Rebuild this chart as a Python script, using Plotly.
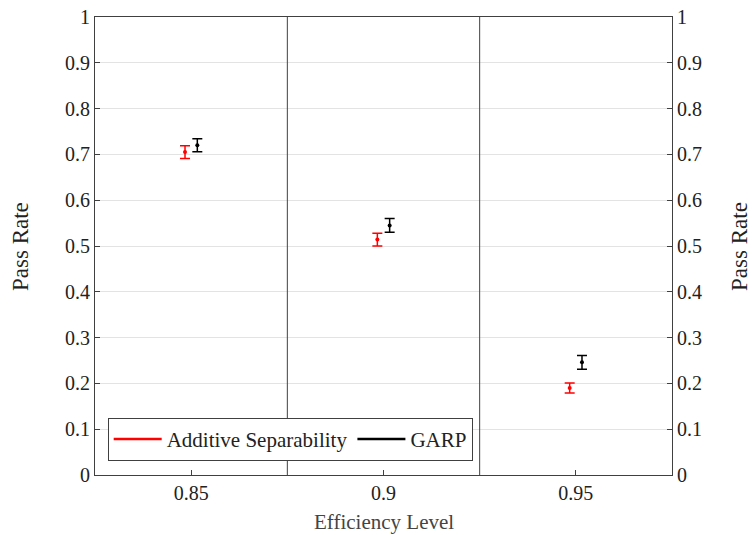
import plotly.graph_objects as go

levels = [0.85, 0.9, 0.95]
tick_labels = ["0.85", "0.9", "0.95"]
add_sep = [0.705, 0.514, 0.190]
add_sep_err = [0.014, 0.014, 0.011]
garp = [0.720, 0.545, 0.246]
garp_err = [0.014, 0.015, 0.015]
offset = 0.0016
separators = [0.875, 0.925]
yticks = [0, 0.1, 0.2, 0.3, 0.4, 0.5, 0.6, 0.7, 0.8, 0.9, 1]
yticklabels = ["0", "0.1", "0.2", "0.3", "0.4", "0.5", "0.6", "0.7", "0.8", "0.9", "1"]

FONT = "Liberation Serif, serif"
fig = go.Figure()

fig.add_trace(go.Scatter(
    x=[v - offset for v in levels], y=add_sep, mode="markers",
    marker=dict(color="red", size=4),
    error_y=dict(type="data", array=add_sep_err, color="red", thickness=1.5, width=5),
    showlegend=False))
fig.add_trace(go.Scatter(
    x=[v + offset for v in levels], y=garp, mode="markers",
    marker=dict(color="black", size=4),
    error_y=dict(type="data", array=garp_err, color="black", thickness=1.5, width=5),
    showlegend=False))
# legend entries
fig.add_trace(go.Scatter(x=[None], y=[None], mode="lines", name="Additive Separability",
                         line=dict(color="red", width=2.5)))
fig.add_trace(go.Scatter(x=[None], y=[None], mode="lines", name="GARP",
                         line=dict(color="black", width=2.5)))
# dummy for right axis
fig.add_trace(go.Scatter(x=[levels[0]], y=[0], yaxis="y2", mode="markers",
                         marker=dict(opacity=0), showlegend=False, hoverinfo="skip"))

for s in separators:
    fig.add_shape(type="line", x0=s, x1=s, y0=0, y1=1, xref="x", yref="y",
                  line=dict(color="#404040", width=1))

axis_common = dict(showline=True, linecolor="#404040", linewidth=1,
                   ticks="inside", ticklen=5, tickcolor="#404040", automargin=False,
                   tickfont=dict(family=FONT, size=20, color="#222"))

fig.update_layout(
    width=754, height=535,
    margin=dict(l=95, r=82, t=17, b=60, autoexpand=False),
    paper_bgcolor="white", plot_bgcolor="white",
    font=dict(family=FONT, color="#222", size=20),
    xaxis=dict(range=[0.825, 0.975], tickvals=levels, ticktext=tick_labels,
               showgrid=False, zeroline=False, mirror=True, **axis_common),
    yaxis=dict(range=[0, 1], tickvals=yticks, ticktext=yticklabels,
               showgrid=True, gridcolor="#e3e3e3", gridwidth=1, zeroline=False,
               **axis_common),
    yaxis2=dict(range=[0, 1], tickvals=yticks, ticktext=yticklabels, overlaying="y", side="right",
                showgrid=False, zeroline=False, **axis_common),
    legend=dict(orientation="h", x=0.022, y=0.031, xanchor="left", yanchor="bottom",
                bgcolor="white", bordercolor="#404040", borderwidth=1,
                font=dict(family=FONT, size=21, color="#222"),
                itemwidth=48, tracegroupgap=0),
    annotations=[
        dict(text="Efficiency Level", xref="paper", yref="paper", x=0.5, y=-0.103,
             xanchor="center", yanchor="middle", showarrow=False,
             font=dict(family=FONT, size=21, color="#444")),
        dict(text="Pass Rate", xref="paper", yref="paper", x=-0.13, y=0.5, textangle=-90,
             xanchor="center", yanchor="middle", showarrow=False,
             font=dict(family=FONT, size=23, color="#222")),
        dict(text="Pass Rate", xref="paper", yref="paper", x=1.116, y=0.5, textangle=-90,
             xanchor="center", yanchor="middle", showarrow=False,
             font=dict(family=FONT, size=23, color="#222")),
    ],
)

fig.write_html("out.html", config={"displayModeBar": False},
               post_script="document.body.style.margin='0';")
